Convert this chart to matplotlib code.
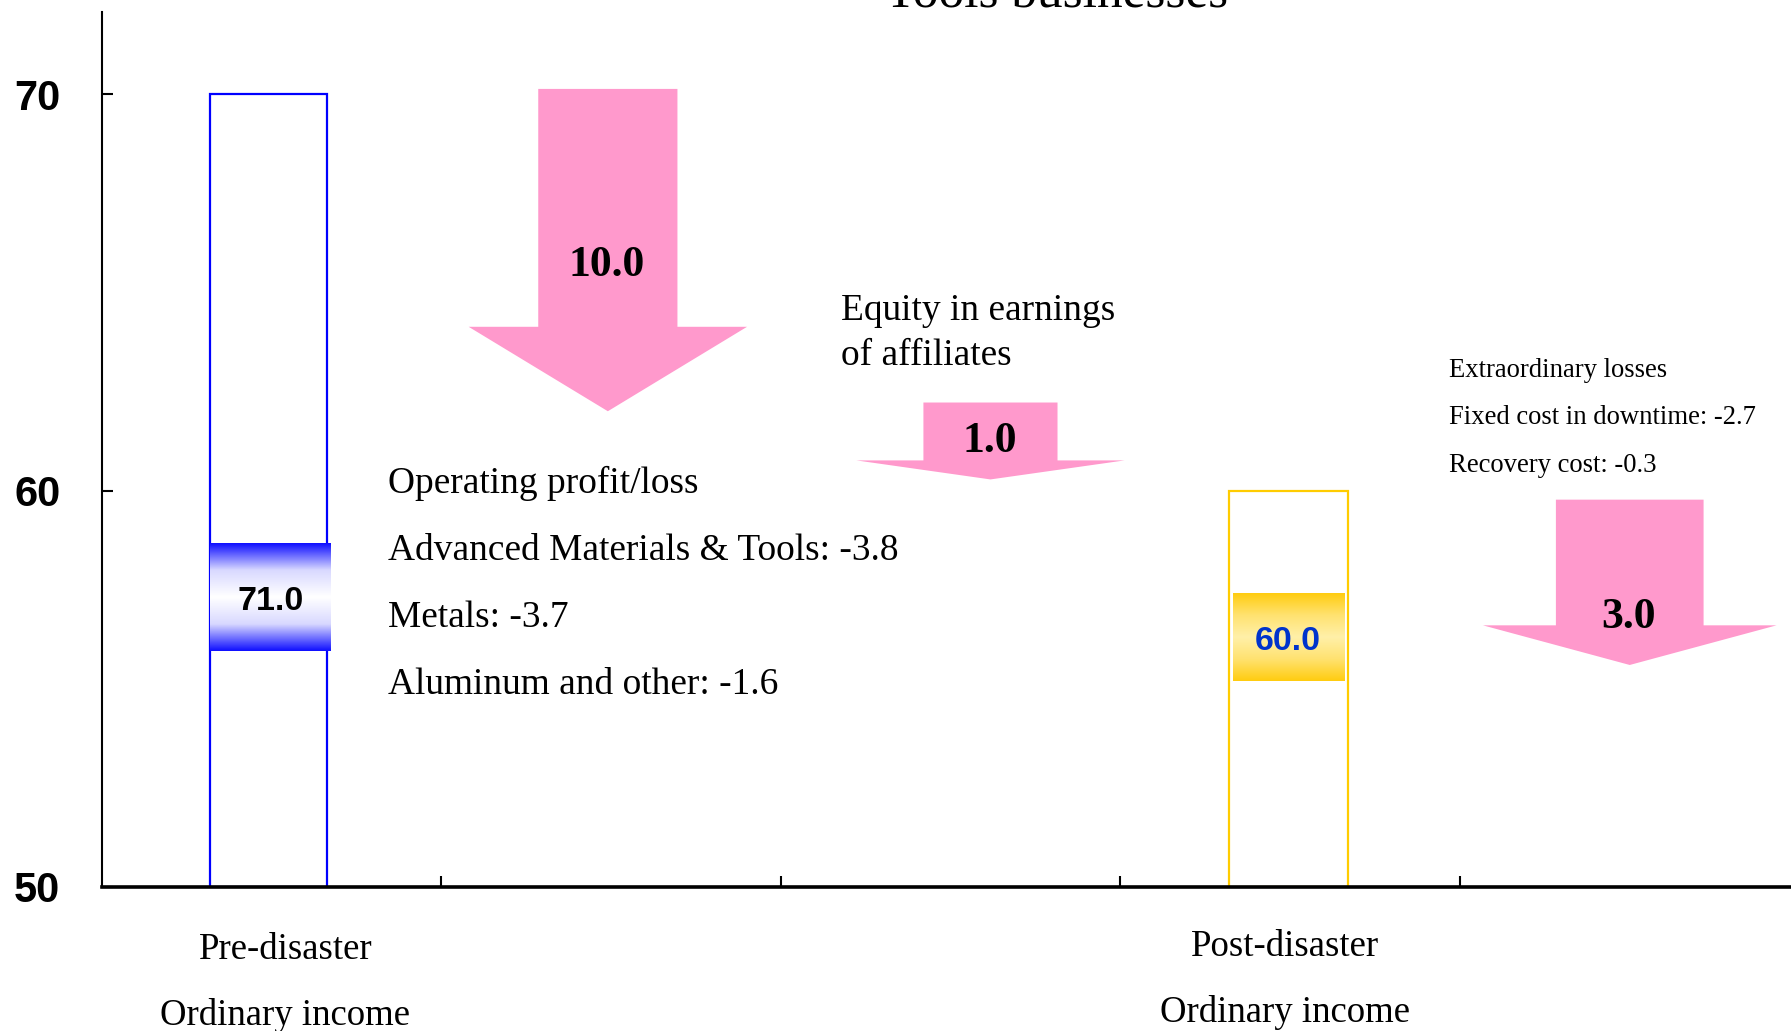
import numpy as np
import matplotlib
matplotlib.use("Agg")
import matplotlib.pyplot as plt
import matplotlib.transforms as mtransforms
from matplotlib.patches import FancyArrow
from matplotlib.colors import LinearSegmentedColormap

# --- dados ---
bar_pos = [0.49, 3.496]                # centro das barras (eixo de categorias)
bar_values = [70.0, 60.0]              # altura desenhada das barras
bar_labels = ["71.0", "60.0"]
bar_box = [(58.66, 55.94), (57.4, 55.2)]   # faixa do rotulo (topo, base)
bar_edge = ["#0000FF", "#FFCC00"]
x_names = ["Pre-disaster", "Post-disaster"]
x_sub = ["Ordinary income", "Ordinary income"]

arrow_x = [1.49, 2.617, 4.50]
arrow_start = [70.13, 62.22, 59.77]
arrow_end = [62.0, 60.28, 55.6]
arrow_head_base = [64.13, 60.76, 56.6]
arrow_labels = ["10.0", "1.0", "3.0"]

op_lines = ["Operating profit/loss", "Advanced Materials & Tools: -3.8",
            "Metals: -3.7", "Aluminum and other: -1.6"]
eq_lines = ["Equity in earnings", "of affiliates"]
ex_lines = ["Extraordinary losses", "Fixed cost in downtime: -2.7", "Recovery cost: -0.3"]

serif = "Liberation Serif"
sans = "Liberation Sans"
pink = "#FF99CC"

fig = plt.figure(figsize=(17.91, 10.31), dpi=100)
ax = fig.add_axes([102 / 1791, 144 / 1031, 1 - 102 / 1791, (887 - 12) / 1031])
ax.set_xlim(0, 4.975)
ax.set_ylim(50, 72.07)

# barras
bws = [0.345, 0.35]
for i, xc in enumerate(bar_pos):
    ax.bar(xc, bar_values[i] - 50, bottom=50, width=bws[i], facecolor="white",
           edgecolor=bar_edge[i], linewidth=1.6, zorder=2)

# caixas com gradiente
grad = np.abs(np.linspace(-1, 1, 200)).reshape(-1, 1)
cm_blue = LinearSegmentedColormap.from_list("b", ["#FFFFFF", "#D8D8FF", "#1010FF"])
cm_gold = LinearSegmentedColormap.from_list("g", ["#FFF0A8", "#FFE270", "#FFCC10"])
for i, xc in enumerate(bar_pos):
    top, bot = bar_box[i]
    cmap = cm_blue if i == 0 else cm_gold
    if i == 0:
        x0, x1 = xc - 0.172, xc + 0.183
        tx = xc + 0.008
    else:
        x0, x1 = xc - 0.165, xc + 0.162
        tx = xc - 0.003
    ax.imshow(grad, cmap=cmap, aspect="auto", extent=(x0, x1, bot, top),
              zorder=3, interpolation="bilinear")
    ax.text(tx, (top + bot) / 2 - 0.1, bar_labels[i], ha="center", va="center",
            fontsize=24.5, fontweight="bold", family=sans,
            color="black" if i == 0 else "#0033CC", zorder=4)

# setas
for i in range(3):
    L = arrow_start[i] - arrow_end[i]
    hl = arrow_head_base[i] - arrow_end[i]
    sw = [0.41, 0.395, 0.435][i]
    hw = [0.82, 0.79, 0.865][i]
    ax.add_patch(FancyArrow(arrow_x[i], arrow_start[i], 0, -L, width=sw, head_width=hw,
                            head_length=hl, length_includes_head=True, color=pink,
                            linewidth=0, zorder=2))

ax.text(1.486, 65.68, arrow_labels[0], ha="center", va="center", fontsize=31.5,
        fontweight="bold", family=serif)
ax.text(2.616, 61.25, arrow_labels[1], ha="center", va="center", fontsize=31.5,
        fontweight="bold", family=serif)
ax.text(4.497, 56.82, arrow_labels[2], ha="center", va="center", fontsize=31.5,
        fontweight="bold", family=serif)

# textos explicativos
for k, s in enumerate(op_lines):
    ax.text(0.843, 60.18 - k * 1.69, s, ha="left", va="center", fontsize=26.9, family=serif)
for k, s in enumerate(eq_lines):
    ax.text(2.177, 64.54 - k * 1.14, s, ha="left", va="center", fontsize=26.9, family=serif)
for k, s in enumerate(ex_lines):
    ax.text(3.968, 63.04 - k * 1.21, s, ha="left", va="center", fontsize=19.2, family=serif)

fig.text(1057 / 1791, 1 - 7 / 1031, "Tools businesses", ha="center", va="baseline",
         fontsize=37, family=serif)

# rotulos das categorias
trans = mtransforms.blended_transform_factory(ax.transData, fig.transFigure)
name_x = [0.54, 3.485]
name_y = [(949.5, 1015.5), (946.5, 1012.5)]
for i in range(2):
    ax.text(name_x[i], 1 - name_y[i][0] / 1031, x_names[i], transform=trans,
            ha="center", va="center", fontsize=26.5, family=serif)
    ax.text(name_x[i], 1 - name_y[i][1] / 1031, x_sub[i], transform=trans,
            ha="center", va="center", fontsize=26.5, family=serif)

# eixos
for s in ["top", "right"]:
    ax.spines[s].set_visible(False)
ax.spines["left"].set_linewidth(1.5)
ax.spines["bottom"].set_linewidth(2.6)
ax.spines["bottom"].set_zorder(5)

ax.set_yticks([50, 60, 70])
ax.set_yticklabels(["50", "60", "70"], fontsize=30, fontweight="bold", family=sans)
ax.tick_params(axis="y", direction="in", length=8, width=1.5, pad=30)

ax.set_xticks([1, 2, 3, 4])
ax.set_xticklabels([])
ax.tick_params(axis="x", direction="in", length=8, width=1.5)

fig.savefig("out.png", dpi=100)
